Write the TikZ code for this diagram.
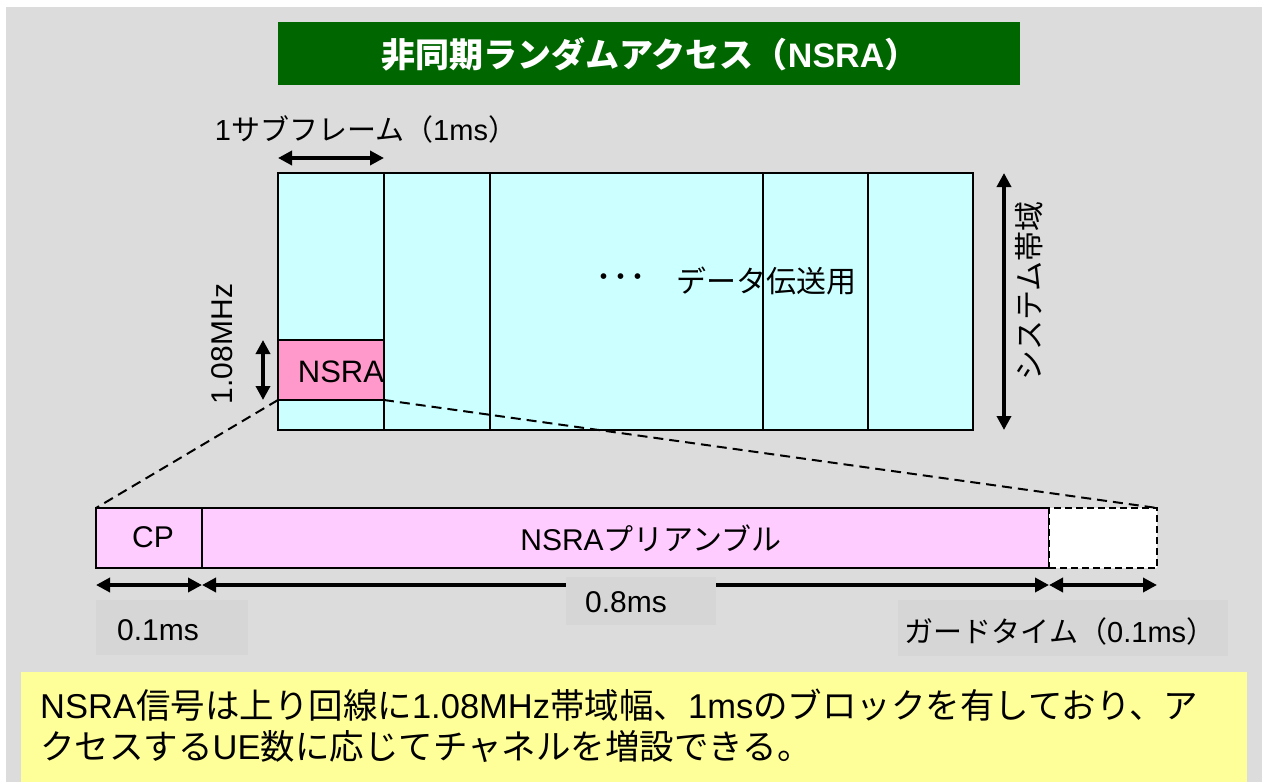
\documentclass[tikz,border=0pt]{standalone}
\usepackage{fontspec}
\setmainfont{Liberation Sans}
\newfontfamily\jp{Noto Sans CJK JP}
\usetikzlibrary{arrows.meta}
\definecolor{bggray}{HTML}{DCDCDC}
\definecolor{lblgray}{HTML}{D6D6D6}
\definecolor{titlegreen}{HTML}{006600}
\definecolor{cellcyan}{HTML}{CCFFFF}
\definecolor{nsrapink}{HTML}{FF99CC}
\definecolor{barpink}{HTML}{FFCCFF}
\definecolor{noteyellow}{HTML}{FFFF99}
\newcommand{\jpt}[1]{{\jp #1}}
\tikzset{
  box/.style={draw=black, line width=2.5pt, anchor=north west, inner sep=0pt, outer sep=0pt},
  cell/.style={box, fill=cellcyan, minimum height=257},
  barcell/.style={draw=black, line width=2pt, anchor=north west, inner sep=0pt, outer sep=0pt, fill=barpink, minimum height=60},
  lbl/.style={inner sep=0pt, font=\fontsize{30}{36}\selectfont},
  lblbox/.style={fill=lblgray, inner sep=0pt, anchor=north west},
  dimarrow/.style={{Triangle[length=14pt,width=14pt]}-{Triangle[length=14pt,width=14pt]}, line width=4pt},
  zoomline/.style={dash pattern=on 10pt off 6pt, line width=2pt},
}
\begin{document}
\begin{tikzpicture}[x=1pt,y=-1pt]
\useasboundingbox (0,0) rectangle (1262,782);
\fill[bggray] (6,7) rectangle (1262,782);
% title
\node[fill=titlegreen, anchor=north west, minimum width=742, minimum height=63, inner sep=0pt] (title) at (278,22) {};
\node[text=white, font=\fontsize{34}{36}\selectfont\bfseries, inner sep=0pt] (titletext) at (650,54) {\jpt{非同期ランダムアクセス（}NSRA\jpt{）}};
% main grid
\node[cell, minimum width=106] (c1) at (278,173) {};
\node[cell, minimum width=106] (c2) at (384,173) {};
\node[cell, minimum width=273] (c3) at (490,173) {};
\node[cell, minimum width=105] (c4) at (763,173) {};
\node[cell, minimum width=105] (c5) at (868,173) {};
\node[box, fill=nsrapink, minimum width=106, minimum height=60] (nsra) at (278,340) {};
\node[lbl, font=\fontsize{31}{36}\selectfont] (nsralbl) at (341,372) {NSRA};
\node[lbl, font=\fontsize{34}{36}\selectfont\jp] (dots) at (621,282) {･･･};
\node[lbl] (datalbl) at (766,281) {\jpt{データ伝送用}};
% dimension arrows, top
\coordinate (sfL) at (278,158);
\coordinate (sfR) at (384,158);
\draw[dimarrow] (sfL) -- (sfR);
\node[lbl, anchor=base, font=\fontsize{29}{36}\selectfont] (sflbl) at (366,140) {1\jpt{サブフレーム（}1ms\jpt{）}};
\coordinate (bwT) at (263,340);
\coordinate (bwB) at (263,400);
\draw[dimarrow] (bwT) -- (bwB);
\node[lbl, anchor=base, rotate=90] (bwlbl) at (232,344) {1.08MHz};
\coordinate (sysT) at (1004,173);
\coordinate (sysB) at (1004,430);
\draw[dimarrow] (sysT) -- (sysB);
\node[lbl, rotate=90] (syslbl) at (1029,291) {\jpt{システム帯域}};
% bottom bar
\node[barcell, minimum width=106] (cp) at (96,508) {};
\node[barcell, minimum width=847] (pre) at (202,508) {};
\node[draw=black, dash pattern=on 7pt off 4pt, line width=2pt, fill=white, anchor=north west, inner sep=0pt, outer sep=0pt, minimum width=108, minimum height=60] (guard) at (1049,508) {};
\node[lbl] (cplbl) at (153,537) {CP};
\node[lbl] (prelbl) at (651,538) {NSRA\jpt{プリアンブル}};
% zoom lines
\draw[zoomline] (nsra.south west) -- (cp.north west);
\draw[zoomline] (nsra.south east) -- (guard.north east);
% bottom arrows
\coordinate (d0) at (96,585);
\coordinate (d1) at (202,585);
\coordinate (d2) at (1049,585);
\coordinate (d3) at (1157,585);
\draw[dimarrow] (d0) -- (d1);
\draw[dimarrow] (d1) -- (d2);
\draw[dimarrow] (d2) -- (d3);
% labels with boxes
\node[lblbox, minimum width=152, minimum height=55] (cpbox) at (96,600) {};
\node[lbl] (cpdim) at (158,630) {0.1ms};
\node[lblbox, minimum width=150, minimum height=48] (prebox) at (566,577) {};
\node[lbl] (predim) at (626,602) {0.8ms};
\node[lblbox, minimum width=330, minimum height=56] (gbox) at (898,600) {};
\node[lbl, anchor=base, font=\fontsize{29}{36}\selectfont] (gdim) at (1060,642) {\jpt{ガードタイム（}0.1ms\jpt{）}};
% note
\node[fill=noteyellow, anchor=north west, inner sep=0pt, minimum width=1226, minimum height=110] (note) at (21,672) {};
\node[inner sep=0pt, anchor=base west, font=\fontsize{34.5}{40}\selectfont] (note1) at (40,718) {NSRA\jpt{信号は上り回線に}1.08MHz\jpt{帯域幅、}1ms\jpt{のブロックを有しており、ア}};
\node[inner sep=0pt, anchor=base west, font=\fontsize{34.5}{40}\selectfont] (note2) at (40,759) {\jpt{クセスする}UE\jpt{数に応じてチャネルを増設できる。}};
\end{tikzpicture}
\end{document}
